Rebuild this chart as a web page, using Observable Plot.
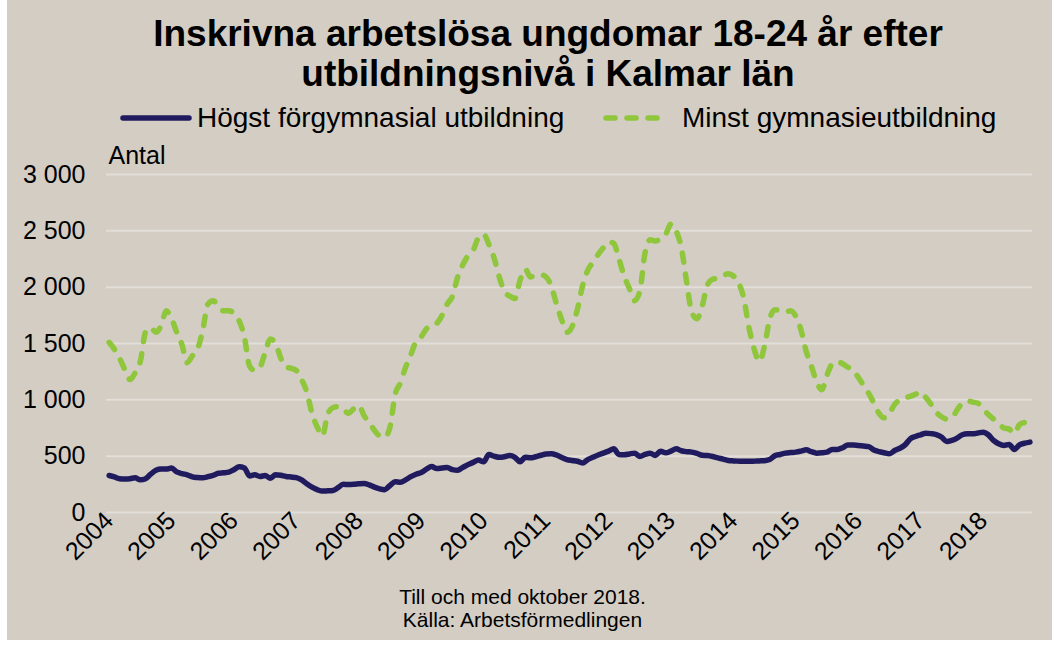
<!DOCTYPE html>
<html>
<head>
<meta charset="utf-8">
<script src="https://cdn.jsdelivr.net/npm/d3@7"></script>
<script src="https://cdn.jsdelivr.net/npm/@observablehq/plot@0.6"></script>
<style>
  html, body { margin: 0; padding: 0; background: #ffffff; }
  body { width: 1063px; height: 648px; position: relative; overflow: hidden; font-family: "Liberation Sans", Arial, sans-serif; }
  #panel { position: absolute; left: 7px; top: 0; width: 1045px; height: 640px; background: #d3cdc4; }
  #title { position: absolute; left: 0; top: 14px; width: 1096px; text-align: center; font-weight: bold; font-size: 37px; line-height: 40px; color: #000; }
  #legend { position: absolute; top: 102px; left: 0; width: 1063px; height: 32px; font-size: 28px; color: #000; }
  .leg { position: absolute; top: 0; height: 32px; display: flex; align-items: center; white-space: nowrap; }
  .leg svg { margin-right: 5px; }
  #chart { position: absolute; left: 0; top: 135px; }
  #caption { position: absolute; top: 585px; left: 0; width: 1045px; text-align: center; font-size: 21px; line-height: 23px; color: #000; }
</style>
</head>
<body>
<div id="panel"></div>
<div id="title">Inskrivna arbetslösa ungdomar 18-24 år efter<br>utbildningsnivå i Kalmar län</div>
<div id="legend">
  <div class="leg" style="left:119px"><svg width="73" height="12"><line x1="4" y1="6" x2="70" y2="6" stroke="#1f1b5e" stroke-width="5.5" stroke-linecap="round"/></svg><span>Högst förgymnasial utbildning</span></div>
  <div class="leg" style="left:601px"><svg width="76" height="12"><line x1="5" y1="6" x2="68" y2="6" stroke="#8fc63c" stroke-width="5.5" stroke-linecap="round" stroke-dasharray="9,12"/></svg><span>Minst gymnasieutbildning</span></div>
</div>
<div id="chart"></div>
<div id="caption">Till och med oktober 2018.<br>Källa: Arbetsförmedlingen</div>
<script>
// Tick labels (one per January), monthly series Jan 2004 – Oct 2018
const yearLabels = ["2004","2005","2006","2007","2008","2009","2010","2011","2012","2013","2014","2015","2016","2017","2018"];
const seriesNames = ["Högst förgymnasial utbildning", "Minst gymnasieutbildning"];
const yTicks = [0, 500, 1000, 1500, 2000, 2500, 3000];

const forgymnasial = [
  328,316,300,298,300,308,290,300,340,375,385,385,
  395,360,345,335,316,310,308,318,330,348,352,358,
  380,405,395,325,335,320,328,305,335,330,320,315,
  310,290,255,225,203,190,192,195,220,250,248,250,
  255,258,245,225,210,203,240,272,268,290,318,340,
  355,385,408,390,395,400,380,375,400,425,445,465,
  450,515,500,490,495,505,490,450,490,485,495,508,
  520,522,510,488,470,462,455,440,470,490,510,527,
  545,565,515,512,520,527,497,515,527,506,544,530,
  545,565,548,540,536,525,508,505,497,485,474,462,
  458,456,455,455,456,458,460,470,505,515,527,532,
  536,545,556,540,527,530,536,560,560,575,600,600,
  595,590,585,555,540,530,521,550,570,600,654,675,
  690,704,700,692,670,630,640,660,690,698,698,705,
  713,690,640,610,595,604,560,600,615,625
];

const gymnasie = [
  1510,1450,1370,1270,1180,1240,1340,1600,1640,1600,1660,1790,
  1720,1600,1490,1330,1390,1450,1620,1850,1880,1830,1790,1790,
  1770,1700,1560,1300,1260,1290,1420,1540,1500,1370,1290,1280,
  1260,1180,1070,880,760,680,870,930,940,920,880,920,
  950,860,800,730,680,670,760,1050,1150,1290,1400,1520,
  1560,1630,1660,1680,1750,1850,1920,2090,2200,2280,2330,2440,
  2470,2380,2260,2090,1960,1920,1900,2060,2160,2090,2110,2110,
  2090,2010,1850,1710,1600,1650,1800,2010,2150,2220,2290,2350,
  2400,2390,2250,2100,1990,1880,1960,2300,2420,2410,2430,2470,
  2560,2500,2350,2050,1780,1720,1830,2020,2070,2080,2100,2120,
  2100,2040,1900,1640,1450,1340,1480,1720,1800,1790,1780,1790,
  1740,1620,1430,1300,1160,1090,1220,1320,1340,1320,1290,1270,
  1200,1130,1060,970,880,840,880,960,1000,1020,1030,1050,
  1070,1020,960,890,850,830,840,910,970,990,980,970,
  920,870,830,790,750,740,700,780,800,820
];

const rowsA = forgymnasial.map((v, i) => ({ m: i, v }));
const rowsB = gymnasie.map((v, i) => ({ m: i, v }));
const tickIdx = yearLabels.map((_, k) => k * 12);

const fmtY = d => d >= 1000 ? `${Math.floor(d / 1000)} ${String(d % 1000).padStart(3, "0")}` : String(d);

const chart = Plot.plot({
  width: 1063,
  height: 450,
  marginLeft: 106,
  marginRight: 31,
  marginTop: 39,
  marginBottom: 73,
  style: { background: "transparent", fontFamily: "Liberation Sans, Arial, sans-serif", fontSize: "25px", color: "#000" },
  x: { domain: [-0.5, forgymnasial.length - 0.5], label: null },
  y: { domain: [0, 3000], label: null },
  marks: [
    Plot.ruleY(yTicks, { stroke: "#e2ded8", strokeWidth: 2 }),
    Plot.axisY({ ticks: yTicks, tickFormat: fmtY, tickSize: 0, tickPadding: 21, fontSize: 25, label: null }),
    Plot.axisX({ ticks: tickIdx, tickFormat: d => yearLabels[d / 12], tickRotate: -45, tickSize: 0, tickPadding: 4, fontSize: 25, label: null }),
    Plot.text(["Antal"], { frameAnchor: "top-left", dx: 2, dy: -28, fontSize: 25, textAnchor: "start" }),
    Plot.line(rowsB, { x: "m", y: "v", stroke: "#8fc63c", strokeWidth: 5.5, strokeDasharray: "9,12", strokeLinecap: "round", curve: "monotone-x" }),
    Plot.line(rowsA, { x: "m", y: "v", stroke: "#1f1b5e", strokeWidth: 5.5, strokeLinecap: "round", curve: "monotone-x" })
  ]
});
document.getElementById("chart").appendChild(chart);
</script>
</body>
</html>
